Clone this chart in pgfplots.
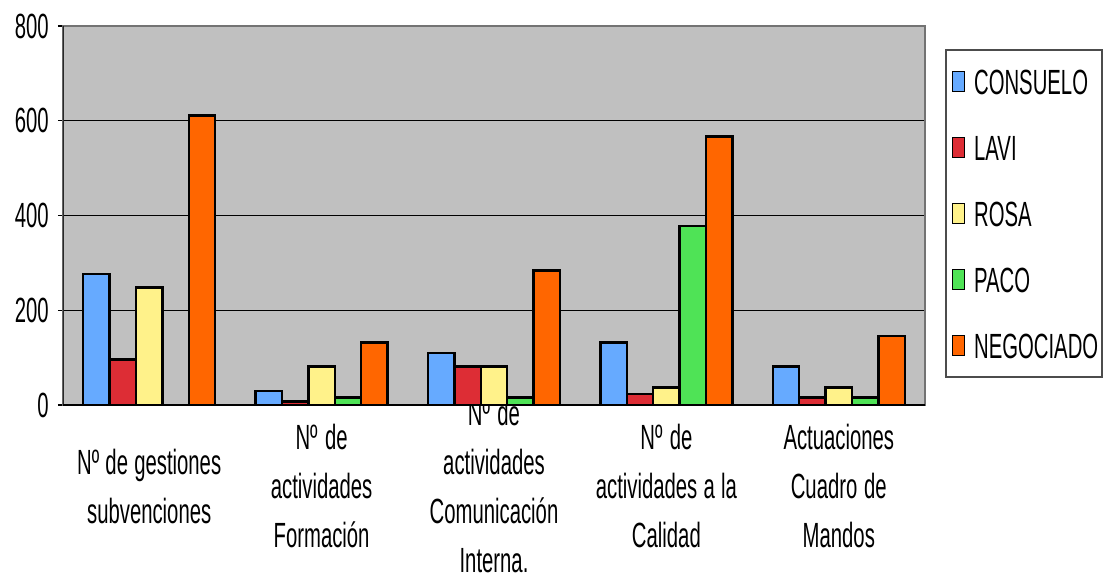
\documentclass[border=0pt]{standalone}
\usepackage{pgfplots}
\pgfplotsset{compat=1.18}
\usepackage{fontspec}
\setmainfont{Liberation Sans}[FakeStretch=0.58]
\definecolor{cBlue}{HTML}{66AAFF}
\definecolor{cRed}{HTML}{DD2D35}
\definecolor{cYellow}{HTML}{FFF28A}
\definecolor{cGreen}{HTML}{4FE356}
\definecolor{cOrange}{HTML}{FF6600}
\definecolor{cBack}{HTML}{C0C0C0}
\newcommand\bigfont{\fontsize{26.25}{36.75}\selectfont}
\pgfplotsset{mybar/.style={fill=#1, draw=black, line width=1.8pt,
  legend image code/.code={\draw[##1,line width=1.4pt] (0pt,-7.5pt) rectangle (9pt,7.5pt);}}}
\begin{document}
\begin{tikzpicture}
\useasboundingbox (-47.25pt,-129.75pt) rectangle (784.5pt,303.75pt);
\begin{axis}[
  scale only axis, width=646.5pt, height=284.25pt,
  font=\bigfont,
  /pgf/number format/assume math mode=true,
  axis background/.style={fill=cBack},
  axis line style={draw=black!55, line width=1.2pt},
  xmin=-0.5, xmax=4.5, ymin=0, ymax=800,
  ytick={0,200,400,600,800},
  ytick pos=left,
  ymajorgrids, grid style={black, line width=0.7pt},
  tick align=outside, major tick length=3.75pt,
  xtick={0,1,2,3,4},
  xtick style={draw=none},
  ytick style={black, line width=0.8pt},
  yticklabel style={xshift=-3.5pt},
  xticklabels={{Nº de gestiones\\subvenciones},{Nº de\\actividades\\Formación},{Nº de\\actividades\\Comunicación\\Interna.},{Nº de\\actividades a la\\Calidad},{Actuaciones\\Cuadro de\\Mandos}},
  xticklabel style={align=center, anchor=center, yshift=-57pt, text width=125pt,
    execute at begin node={\spaceskip=0.17em plus 0.05em\relax}},
  ybar=0pt, bar width=19.8pt,
  legend style={at={(1.02436,0.9247)}, anchor=north west,
    draw=none, fill=none, inner xsep=4pt, inner ysep=9pt,
    row sep=27.5pt, font=\bigfont,
    nodes={inner sep=1.5pt, text height=19pt, text depth=0pt},
    /tikz/every odd column/.style={column sep=5pt}},
  legend cell align=left,
]
\addplot[mybar=cBlue] coordinates {(0,277) (1,30) (2,110) (3,132) (4,81)};
\addplot[mybar=cRed] coordinates {(0,96) (1,7) (2,81) (3,23) (4,16)};
\addplot[mybar=cYellow] coordinates {(0,248) (1,81) (2,81) (3,37) (4,37)};
\addplot[mybar=cGreen] coordinates {(0,0) (1,16) (2,16) (3,378) (4,16)};
\addplot[mybar=cOrange] coordinates {(0,611) (1,132) (2,284) (3,567) (4,146)};
\legend{CONSUELO,LAVI,ROSA,PACO,NEGOCIADO}
\pgfplotsinvokeforeach{0.5,1.5,2.5,3.5,4.5}{\draw[black!65, line width=0.9pt] (axis cs:#1,0) -- ++(0,-129.75pt);}
\draw[black, line width=1pt] (rel axis cs:0,1) -- (rel axis cs:0,0) -- ++(0,-129.75pt);
\draw[black, line width=1.2pt] (rel axis cs:0,0) -- (rel axis cs:1,0);
\end{axis}
\draw[black!70, line width=0.8pt] (662.25pt,21pt) rectangle (779.25pt,266.25pt);
\end{tikzpicture}
\end{document}
